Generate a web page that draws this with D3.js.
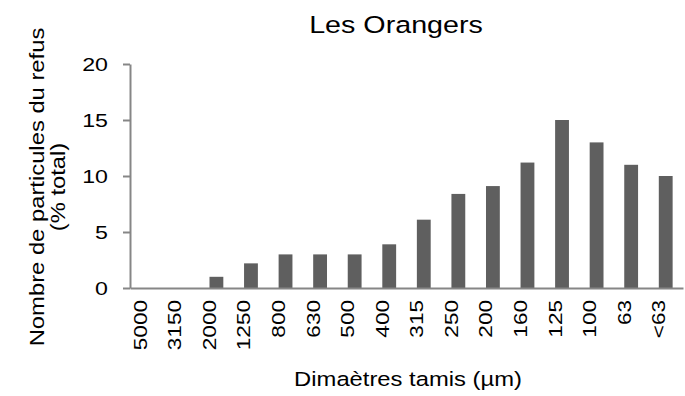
<!DOCTYPE html>
<html>
<head>
<meta charset="utf-8">
<script src="https://cdn.jsdelivr.net/npm/d3@7"></script>
<style>
  html, body { margin: 0; padding: 0; background: #fff; }
  svg { display: block; font-family: "Liberation Sans", Arial, sans-serif; }
</style>
</head>
<body>
<svg id="chart" width="685" height="396"></svg>
<script>
// Sieve size classes (µm) and share of particles retained (% of total)
const categories = ["5000", "3150", "2000", "1250", "800", "630", "500", "400", "315", "250", "200", "160", "125", "100", "63", "<63"];
const values = [0, 0, 1.0, 2.2, 3.0, 3.0, 3.0, 3.9, 6.1, 8.4, 9.1, 11.2, 15.0, 13.0, 11.0, 10.0];
const yTicks = [0, 5, 10, 15, 20];

const title = "Les Orangers";
const xTitle = "Dimaètres tamis (µm)";
const yTitleLines = ["Nombre de particules du refus", "(% total)"];

const svg = d3.select("#chart");
const margin = { left: 130, right: 2, top: 64, bottom: 108 };
const W = 685, H = 396;
const innerW = W - margin.left - margin.right;
const innerH = H - margin.top - margin.bottom;

const axisColor = "#868686";
const barColor = "#5f5f5f";
const S = 1.22; // wide lettering: horizontal stretch along the reading direction

const x = d3.scaleBand().domain(categories).range([0, innerW]).paddingInner(0.6).paddingOuter(0.3);
const y = d3.scaleLinear().domain([0, 20]).range([innerH, 0]);

const g = svg.append("g").attr("transform", `translate(${margin.left},${margin.top})`);

// bars
g.selectAll("rect.bar")
  .data(categories.map((c, i) => ({ c, v: values[i] })))
  .join("rect")
  .attr("class", "bar")
  .attr("x", d => x(d.c))
  .attr("y", d => y(d.v))
  .attr("width", x.bandwidth())
  .attr("height", d => y(0) - y(d.v))
  .attr("fill", barColor);

// y axis
const yAxis = g.append("g")
  .call(d3.axisLeft(y).tickValues(yTicks).tickSize(7).tickSizeOuter(0).tickPadding(15));
yAxis.select(".domain").attr("stroke", axisColor).attr("stroke-width", 2);
yAxis.selectAll(".tick line").attr("stroke", axisColor).attr("stroke-width", 2);
yAxis.selectAll(".tick text")
  .attr("font-size", 19)
  .attr("fill", "#000")
  .attr("font-family", "Liberation Sans, Arial, sans-serif")
  .attr("x", -22 / S)
  .attr("dy", "0.34em")
  .attr("transform", `scale(${S},1)`);

// x axis
const xAxis = g.append("g")
  .attr("transform", `translate(0,${innerH})`)
  .call(d3.axisBottom(x).tickSize(0).tickPadding(0));
xAxis.select(".domain").attr("stroke", axisColor).attr("stroke-width", 2);
xAxis.selectAll(".tick text")
  .attr("font-size", 18.5)
  .attr("fill", "#000")
  .attr("font-family", "Liberation Sans, Arial, sans-serif")
  .attr("transform", `translate(-7,0) rotate(-90) scale(${S},1)`)
  .attr("text-anchor", "end")
  .attr("x", -12 / S)
  .attr("y", 0)
  .attr("dy", "0.35em");

// chart title
svg.append("text")
  .attr("transform", `translate(396,33) scale(${S},1)`)
  .attr("text-anchor", "middle")
  .attr("font-size", 23.5)
  .attr("fill", "#000")
  .text(title);

// x axis title
svg.append("text")
  .attr("transform", `translate(408,386) scale(${S},1)`)
  .attr("text-anchor", "middle")
  .attr("font-size", 19.5)
  .attr("fill", "#000")
  .text(xTitle);

// y axis title (two lines)
const yt = svg.append("text")
  .attr("transform", `translate(44,187) rotate(-90) scale(${S},1)`)
  .attr("text-anchor", "middle")
  .attr("font-size", 19.5)
  .attr("fill", "#000");
yTitleLines.forEach((t, i) => {
  yt.append("tspan").attr("x", 0).attr("dy", i === 0 ? 0 : "1.1em").text(t);
});
</script>
</body>
</html>
